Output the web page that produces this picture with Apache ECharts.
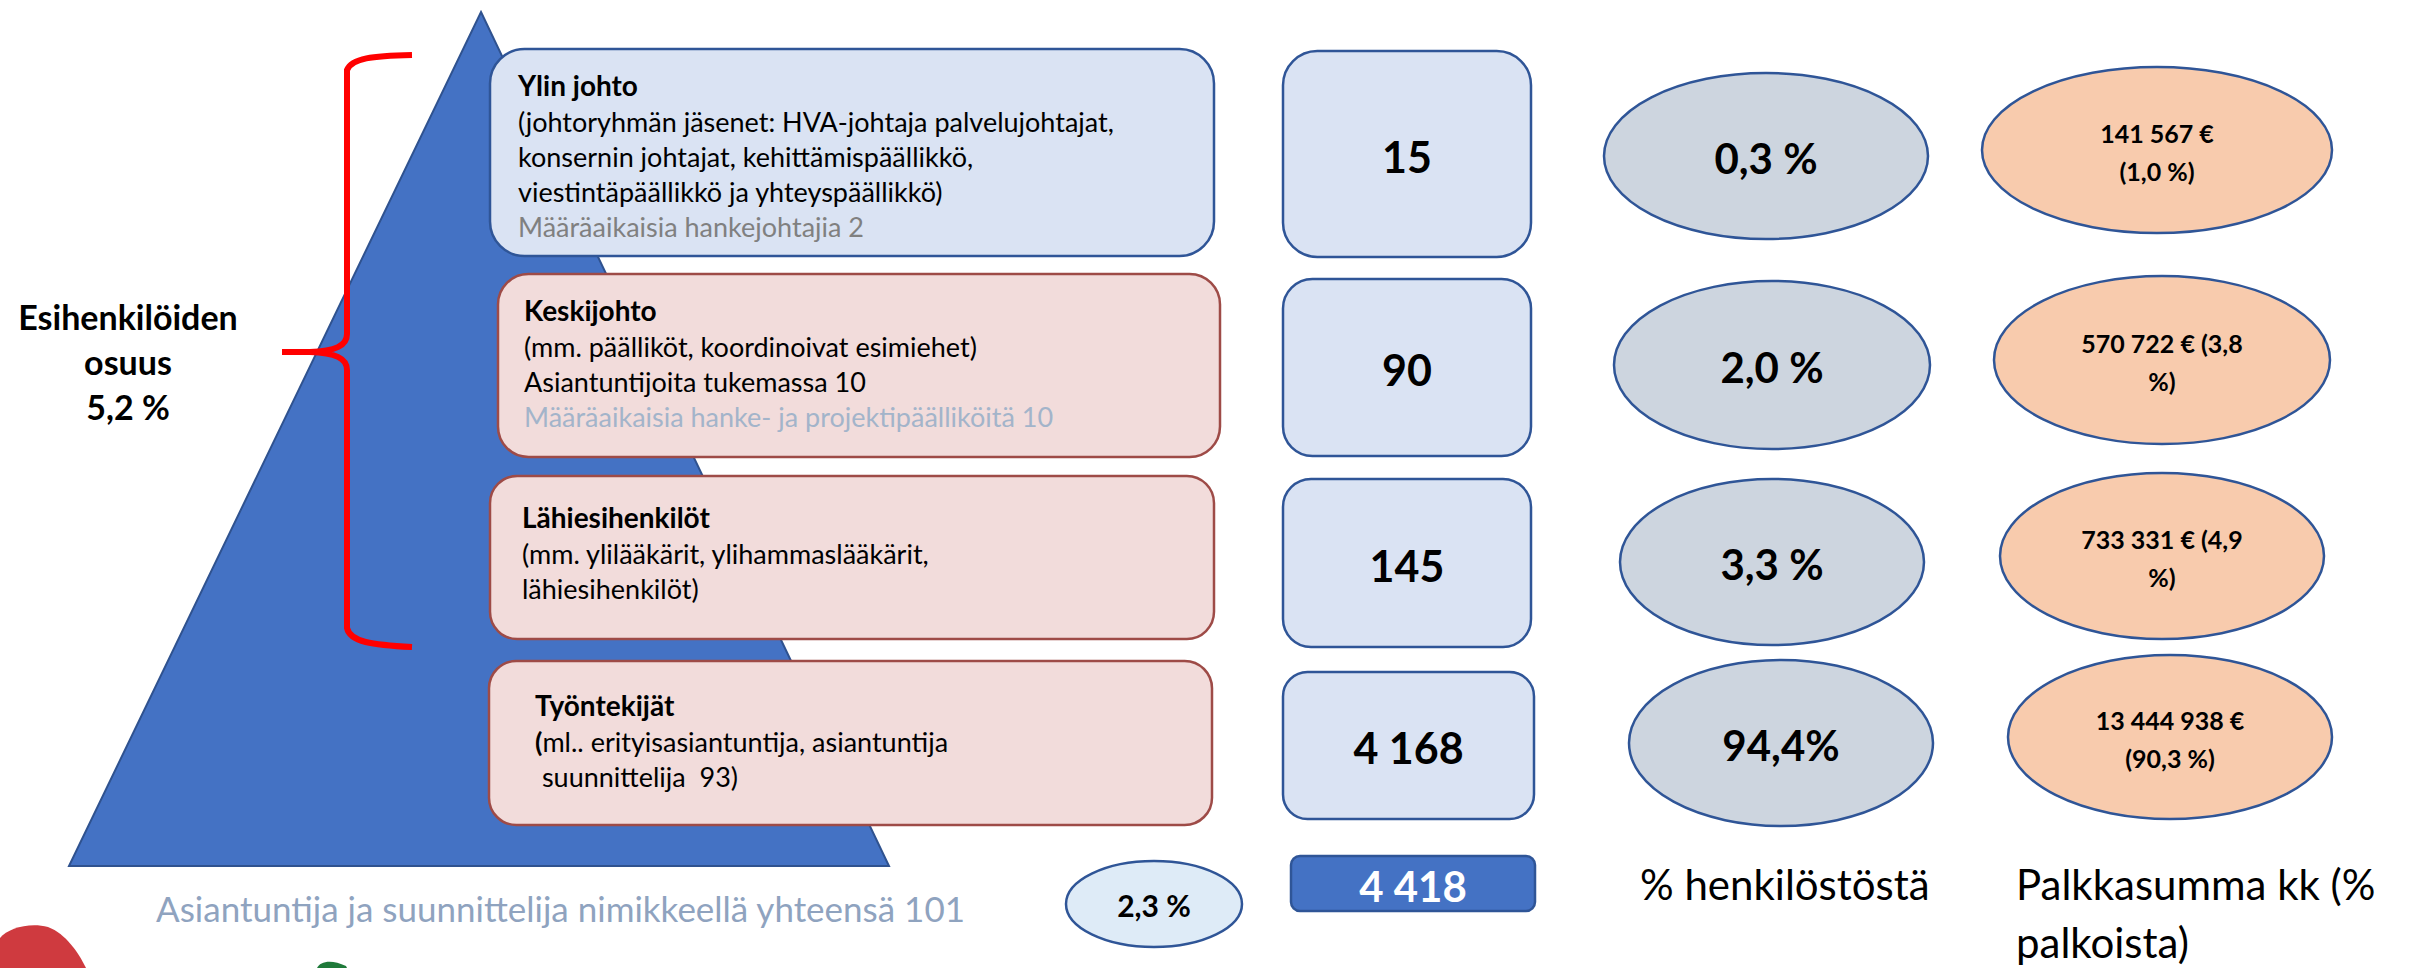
<!DOCTYPE html>
<html><head><meta charset="utf-8">
<script src="https://cdn.jsdelivr.net/npm/echarts@6.0.0/dist/echarts.min.js"></script>
<style>html,body{margin:0;padding:0;background:#fff}#c{width:2410px;height:968px}</style>
</head><body><div id="c"></div>
<script>
// ---------- data ----------
const levels = ['Ylin johto', 'Keskijohto', 'Lähiesihenkilöt', 'Työntekijät'];
const descriptions = [
  ['(johtoryhmän jäsenet: HVA-johtaja palvelujohtajat,', 'konsernin johtajat, kehittämispäällikkö,', 'viestintäpäällikkö ja yhteyspäällikkö)'],
  ['(mm. päälliköt, koordinoivat esimiehet)', 'Asiantuntijoita tukemassa 10'],
  ['(mm. ylilääkärit, ylihammaslääkärit,', 'lähiesihenkilöt)'],
  ['(ml.. erityisasiantuntija, asiantuntija', ' suunnittelija  93)']
];
const fixedTermNotes = ['Määräaikaisia hankejohtajia 2', 'Määräaikaisia hanke- ja projektipäälliköitä 10', '', ''];
const headcounts = [15, 90, 145, 4168];
const totalHeadcount = 4418;
const staffShares = ['0,3 %', '2,0 %', '3,3 %', '94,4%'];
const salarySums = [141567, 570722, 733331, 13444938];
const salaryShares = ['1,0', '3,8', '4,9', '90,3'];
const supervisorLabel = ['Esihenkilöiden', 'osuus', '5,2 %'];
const expertShare = '2,3 %';
const expertNote = 'Asiantuntija ja suunnittelija nimikkeellä yhteensä 101';
const columnTitles = ['% henkilöstöstä', 'Palkkasumma kk (%\npalkoista)'];

// ---------- layout (pixel space of the hidden axes) ----------
const rowBoxes = [[490, 49, 1214, 256], [498, 274, 1220, 457], [490, 476, 1214, 639], [489, 661, 1212, 825]];
const textStart = [[518, 85], [524, 310], [522, 517], [535, 705]];
const countBoxes = [[1283, 51, 1531, 257], [1283, 279, 1531, 456], [1283, 479, 1531, 647], [1283, 672, 1534, 819]];
const shareEllipses = [[1766, 156, 162, 83], [1772, 365, 158, 84], [1772, 562, 152, 83], [1781, 743, 152, 83]];
const salaryEllipses = [[2157, 150, 175, 83], [2162, 360, 168, 84], [2162, 556, 162, 83], [2170, 737, 162, 82]];
const salaryWrapInside = [false, true, true, false];
const rowFill = ['#DAE3F3', '#F2DCDB', '#F2DCDB', '#F2DCDB'];
const rowStroke = ['#2F5597', '#9E4B47', '#9E4B47', '#9E4B47'];
const noteColor = ['#808080', '#A3B4CA', '', ''];
const totalBox = [1291, 856, 1535, 911];
const expertEllipse = [1154, 904, 88, 43];
const pyramid = [[481, 12], [889, 866], [69, 866]];
const bracePath = 'M412,55 C372,56 352,58 347,70 L347,334 C347,346 335,351 310,352 L282,352 M310,352 C335,353 347,358 347,370 L347,628 C350,642 372,645 412,647';

const FONT = 'Lato, "Open Sans", sans-serif';
const BLUE_LINE = '#2F5597';

function fmt(n) { return String(n).replace(/\B(?=(\d{3})+(?!\d))/g, ' '); }
function salaryLabel(i) {
  const a = fmt(salarySums[i]) + ' €';
  return salaryWrapInside[i] ? a + ' (' + salaryShares[i] + '\n%)' : a + '\n(' + salaryShares[i] + ' %)';
}

function rectOf(api, b) {
  const a = api.coord([b[0], b[1]]), c = api.coord([b[2], b[3]]);
  return { x: a[0], y: a[1], width: c[0] - a[0], height: c[1] - a[1] };
}
function ellipseEl(api, e, fill) {
  const c = api.coord([e[0], e[1]]), r = api.coord([e[0] + e[2], e[1] + e[3]]);
  const rx = r[0] - c[0], ry = r[1] - c[1];
  const d = 'M' + (c[0] - rx) + ',' + c[1] +
    ' A' + rx + ',' + ry + ' 0 1 0 ' + (c[0] + rx) + ',' + c[1] +
    ' A' + rx + ',' + ry + ' 0 1 0 ' + (c[0] - rx) + ',' + c[1] + ' Z';
  return { el: { type: 'path', shape: { pathData: d }, style: { fill: fill, stroke: BLUE_LINE, lineWidth: 2.5 } }, cx: c[0], cy: c[1] };
}
function centerText(x, y, text, size, weight, color, lh) {
  return { type: 'text', z2: 10, style: { text: text, x: x, y: y, align: 'center', verticalAlign: 'middle',
    fontFamily: FONT, fontSize: size, fontWeight: weight, fill: color, lineHeight: lh || Math.round(size * 1.2) } };
}

function renderRow(params, api) {
  const i = params.dataIndex;
  const children = [];
  const tb = rectOf(api, rowBoxes[i]);
  children.push({ type: 'rect', shape: Object.assign({}, tb, { r: Math.min(tb.width, tb.height) * 0.1667 }),
    style: { fill: rowFill[i], stroke: rowStroke[i], lineWidth: 2.5 } });
  let s = '{t|' + levels[i] + '}';
  descriptions[i].forEach(function (l, k) {
    if (i === 3 && k === 0) s += '\n{tb|' + l[0] + '}{n|' + l.slice(1) + '}';
    else s += '\n{n|' + l + '}';
  });
  if (fixedTermNotes[i]) s += '\n{g|' + fixedTermNotes[i] + '}';
  const tp = api.coord(textStart[i]);
  children.push({ type: 'text', z2: 10, style: { text: s, x: tp[0], y: tp[1] - 19, align: 'left', verticalAlign: 'top',
    fontFamily: FONT, fontSize: 27, fill: '#000',
    rich: {
      t: { fontFamily: FONT, fontSize: 28, fontWeight: 'bold', lineHeight: 38, fill: '#000' },
      tb: { fontFamily: FONT, fontSize: 27, fontWeight: 'bold', lineHeight: 35, fill: '#000' },
      n: { fontFamily: FONT, fontSize: 27, lineHeight: 35, fill: '#000' },
      g: { fontFamily: FONT, fontSize: 27, lineHeight: 35, fill: noteColor[i] || '#808080' }
    } } });
  const cb = rectOf(api, countBoxes[i]);
  children.push({ type: 'rect', shape: Object.assign({}, cb, { r: Math.min(cb.width, cb.height) * 0.1667 }),
    style: { fill: '#DAE3F3', stroke: BLUE_LINE, lineWidth: 2.5 } });
  children.push(centerText(cb.x + cb.width / 2, cb.y + cb.height / 2 + 2, fmt(headcounts[i]), 43, 'bold', '#000'));
  const se = ellipseEl(api, shareEllipses[i], '#CDD5DF');
  children.push(se.el);
  children.push(centerText(se.cx, se.cy + 2, staffShares[i], 42, 'bold', '#000'));
  const sa = ellipseEl(api, salaryEllipses[i], '#F8CBAD');
  children.push(sa.el);
  children.push(centerText(sa.cx, sa.cy + 2, salaryLabel(i), 25, 'bold', '#000', 38));
  return { type: 'group', children: children };
}

function renderTotals(params, api) {
  const tb = rectOf(api, totalBox);
  const ee = ellipseEl(api, expertEllipse, '#DEEBF7');
  return { type: 'group', children: [
    { type: 'rect', shape: Object.assign({}, tb, { r: 9 }), style: { fill: '#4472C4', stroke: BLUE_LINE, lineWidth: 2.5 } },
    centerText(tb.x + tb.width / 2, tb.y + tb.height / 2 + 2, fmt(totalHeadcount), 42, 'bold', '#fff'),
    ee.el,
    centerText(ee.cx, ee.cy + 1, expertShare, 30, 'bold', '#000')
  ] };
}

function renderDecor(params, api) {
  const pts = pyramid.map(function (p) { return api.coord(p); });
  return { type: 'group', children: [
    { type: 'polygon', shape: { points: pts }, style: { fill: '#4472C4', stroke: '#2F528F', lineWidth: 2 } },
    { type: 'path', shape: { pathData: bracePath }, style: { fill: null, stroke: '#FF0000', lineWidth: 6 } },
    { type: 'path', shape: { pathData: 'M0,938 C8,928 30,922 48,927 C66,934 78,952 86,968 L0,968 Z' }, style: { fill: '#CF3A3F' } },
    { type: 'path', shape: { pathData: 'M317,968 C320,961 332,959 346,966 L347,968 Z' }, style: { fill: '#1F7A3A' } }
  ] };
}

const chart = echarts.init(document.getElementById('c'), null, { renderer: 'svg' });
chart.setOption({
  animation: false,
  backgroundColor: '#ffffff',
  grid: { left: 0, right: 0, top: 0, bottom: 0 },
  xAxis: { type: 'value', min: 0, max: 2410, show: false },
  yAxis: { type: 'value', min: 0, max: 968, inverse: true, show: false },
  graphic: [
    { type: 'text', z: 5, style: { text: supervisorLabel.join('\n'), x: 128, y: 317 - 23, align: 'center', verticalAlign: 'top',
      fontFamily: FONT, fontSize: 34, fontWeight: 'bold', fill: '#000', lineHeight: 45 } },
    { type: 'text', z: 5, style: { text: expertNote, x: 156, y: 908, align: 'left', verticalAlign: 'middle',
      fontFamily: FONT, fontSize: 35, fill: '#8FA3BF' } },
    { type: 'text', z: 5, style: { text: columnTitles[0], x: 1640, y: 884, align: 'left', verticalAlign: 'middle',
      fontFamily: FONT, fontSize: 42, fill: '#000' } },
    { type: 'text', z: 5, style: { text: columnTitles[1], x: 2016, y: 884 - 29, align: 'left', verticalAlign: 'top',
      fontFamily: FONT, fontSize: 42, fill: '#000', lineHeight: 58 } }
  ],
  series: [
    { type: 'custom', coordinateSystem: 'cartesian2d', data: [[0, 0]], renderItem: renderDecor, z: 1, silent: true },
    { type: 'custom', coordinateSystem: 'cartesian2d', data: headcounts.map(function (v, i) { return [i, v]; }),
      renderItem: renderRow, z: 3, silent: true },
    { type: 'custom', coordinateSystem: 'cartesian2d', data: [[0, totalHeadcount]],
      renderItem: renderTotals, z: 3, silent: true }
  ]
});
</script>
</body></html>
